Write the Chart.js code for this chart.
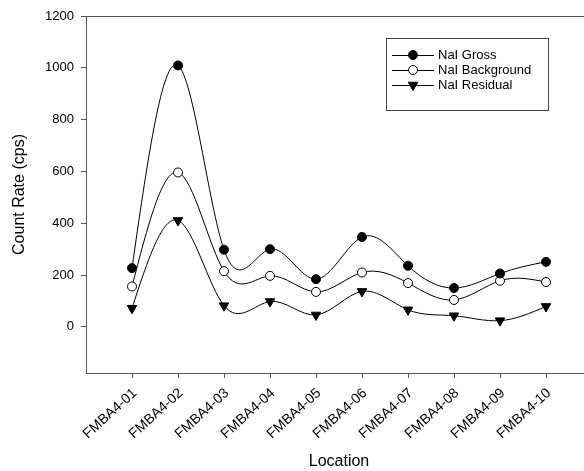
<!DOCTYPE html>
<html>
<head>
<meta charset="utf-8">
<title>NaI count rates by location</title>
<script src="https://cdn.jsdelivr.net/npm/chart.js@4.4.1/dist/chart.umd.min.js"></script>
<style>
  html, body { margin: 0; padding: 0; background: #fff; width: 584px; height: 471px; overflow: hidden; }
  canvas { display: block; }
</style>
</head>
<body>
<canvas id="chart" width="600" height="471"></canvas>
<script>
// Survey locations and NaI detector count rates (cps)
const locations = ['FMBA4-01', 'FMBA4-02', 'FMBA4-03', 'FMBA4-04', 'FMBA4-05',
                   'FMBA4-06', 'FMBA4-07', 'FMBA4-08', 'FMBA4-09', 'FMBA4-10'];
const grossRate      = [227, 1009, 298, 300, 184, 347, 236, 150, 206, 251];
const backgroundRate = [156, 596, 215, 197, 135, 210, 169, 104, 178, 173];
const residualRate   = [72, 411, 82, 98, 46, 137, 66, 43, 24, 79];
const yTickValues    = [0, 200, 400, 600, 800, 1000, 1200];
const seriesNames    = ['NaI Gross', 'NaI Background', 'NaI Residual'];

const FONT = '"Liberation Sans", Arial, Helvetica, sans-serif';
const AXIS_COLOR = '#555555';

// Slopes of a natural cubic spline through the points (x strictly increasing)
function naturalSplineSlopes(xs, ys) {
  const n = xs.length;
  const h = [];
  for (let i = 0; i < n - 1; i++) h.push(xs[i + 1] - xs[i]);
  const M = new Array(n).fill(0);
  const a = [], b = [], c = [], d = [];
  for (let i = 1; i < n - 1; i++) {
    a.push(h[i - 1]);
    b.push(2 * (h[i - 1] + h[i]));
    c.push(h[i]);
    d.push(6 * ((ys[i + 1] - ys[i]) / h[i] - (ys[i] - ys[i - 1]) / h[i - 1]));
  }
  const m = d.length;
  if (m > 0) {
    for (let i = 1; i < m; i++) {
      const w = a[i] / b[i - 1];
      b[i] -= w * c[i - 1];
      d[i] -= w * d[i - 1];
    }
    const sol = new Array(m);
    sol[m - 1] = d[m - 1] / b[m - 1];
    for (let i = m - 2; i >= 0; i--) sol[i] = (d[i] - c[i] * sol[i + 1]) / b[i];
    for (let i = 0; i < m; i++) M[i + 1] = sol[i];
  }
  const s = [];
  for (let i = 0; i < n - 1; i++) {
    s.push((ys[i + 1] - ys[i]) / h[i] - h[i] * (2 * M[i] + M[i + 1]) / 6);
  }
  s.push((ys[n - 1] - ys[n - 2]) / h[n - 2] + h[n - 2] * (M[n - 2] + 2 * M[n - 1]) / 6);
  return s;
}

// Replace the default bezier control points with natural-spline ones
const naturalSpline = {
  id: 'naturalSpline',
  beforeDatasetDraw(chart, args) {
    const meta = args.meta;
    const line = meta.dataset;
    const pts = meta.data;
    if (!line || pts.length < 3) return;
    line.updateControlPoints(chart.chartArea, meta.iScale.axis);
    const xs = pts.map(p => p.x);
    const ys = pts.map(p => p.y);
    const s = naturalSplineSlopes(xs, ys);
    const n = pts.length;
    pts.forEach((p, i) => {
      const hl = i > 0 ? xs[i] - xs[i - 1] : 0;
      const hr = i < n - 1 ? xs[i + 1] - xs[i] : 0;
      p.cp1x = xs[i] - hl / 3;
      p.cp1y = ys[i] - s[i] * hl / 3;
      p.cp2x = xs[i] + hr / 3;
      p.cp2y = ys[i] + s[i] * hr / 3;
    });
    line._path = undefined;
  }
};

// Top and right edges of the plot frame
const plotFrame = {
  id: 'plotFrame',
  afterDraw(chart) {
    const { ctx, chartArea: a } = chart;
    ctx.save();
    ctx.strokeStyle = AXIS_COLOR;
    ctx.lineWidth = 1;
    ctx.beginPath();
    ctx.moveTo(a.left, Math.round(a.top) + 0.5);
    ctx.lineTo(a.right, Math.round(a.top) + 0.5);
    ctx.moveTo(Math.round(a.right) + 0.5, a.top);
    ctx.lineTo(Math.round(a.right) + 0.5, a.bottom);
    ctx.stroke();
    ctx.restore();
  }
};

// Boxed legend inside the plot: line sample with marker, then the series name
const boxedLegend = {
  id: 'boxedLegend',
  afterDraw(chart) {
    const ctx = chart.ctx;
    const box = { x: 386.5, y: 38.5, w: 162, h: 72 };
    const rowY = [55, 70, 85];
    ctx.save();
    ctx.strokeStyle = '#444444';
    ctx.lineWidth = 1;
    ctx.strokeRect(box.x, box.y, box.w, box.h);
    ctx.font = '13px ' + FONT;
    ctx.textBaseline = 'middle';
    ctx.textAlign = 'left';
    chart.data.datasets.forEach((ds, i) => {
      const y = rowY[i];
      ctx.strokeStyle = '#000';
      ctx.lineWidth = 1;
      ctx.beginPath();
      ctx.moveTo(392, y + 0.5);
      ctx.lineTo(434, y + 0.5);
      ctx.stroke();
      ctx.fillStyle = ds.pointBackgroundColor;
      ctx.strokeStyle = ds.pointBorderColor;
      ctx.lineWidth = ds.pointBorderWidth;
      Chart.helpers.drawPoint(ctx, {
        pointStyle: ds.pointStyle,
        rotation: ds.pointRotation || 0,
        radius: ds.pointRadius,
        borderWidth: ds.pointBorderWidth
      }, 413, y);
      ctx.fillStyle = '#000';
      ctx.fillText(ds.label, 438, y);
    });
    ctx.restore();
  }
};

const toPoints = values => values.map((v, i) => ({ x: i + 1, y: v }));

const common = {
  borderColor: '#000',
  borderWidth: 1,
  tension: 0.4,
  fill: false,
  pointBorderColor: '#000',
  pointBorderWidth: 1,
  pointHoverRadius: 0
};

new Chart(document.getElementById('chart'), {
  type: 'line',
  data: {
    datasets: [
      Object.assign({}, common, {
        label: seriesNames[0],
        data: toPoints(grossRate),
        pointStyle: 'circle',
        pointRadius: 4.5,
        pointBackgroundColor: '#000'
      }),
      Object.assign({}, common, {
        label: seriesNames[1],
        data: toPoints(backgroundRate),
        pointStyle: 'circle',
        pointRadius: 4.5,
        pointBackgroundColor: '#fff'
      }),
      Object.assign({}, common, {
        label: seriesNames[2],
        data: toPoints(residualRate),
        pointStyle: 'triangle',
        pointRotation: 180,
        pointRadius: 5.5,
        pointBackgroundColor: '#000'
      })
    ]
  },
  options: {
    responsive: false,
    animation: false,
    events: [],
    layout: { padding: { left: 0, top: 16, right: 8, bottom: 0 } },
    plugins: {
      legend: { display: false },
      tooltip: { enabled: false }
    },
    scales: {
      x: {
        type: 'linear',
        min: 0,
        max: locations.length + 1,
        afterBuildTicks: scale => { scale.ticks = locations.map((_, i) => ({ value: i + 1 })); },
        afterFit: scale => { scale.height = 98; },
        ticks: {
          autoSkip: false,
          minRotation: 42,
          maxRotation: 42,
          padding: 7,
          labelOffset: 3,
          color: '#000',
          font: { family: FONT, size: 14 },
          callback: v => locations[v - 1] || ''
        },
        grid: { display: true, drawOnChartArea: false, drawTicks: true, tickLength: 5, color: AXIS_COLOR, lineWidth: 1 },
        border: { display: true, color: AXIS_COLOR, width: 1 },
        title: {
          display: true,
          text: 'Location',
          color: '#000',
          font: { family: FONT, size: 16 },
          padding: { top: 0, bottom: 0 }
        }
      },
      y: {
        type: 'linear',
        min: -178,
        max: 1200,
        afterBuildTicks: scale => { scale.ticks = yTickValues.map(v => ({ value: v })); },
        afterFit: scale => { scale.width = 86; },
        ticks: {
          padding: 7,
          color: '#000',
          font: { family: FONT, size: 13 },
          callback: v => String(v)
        },
        grid: { display: true, drawOnChartArea: false, drawTicks: true, tickLength: 5, color: AXIS_COLOR, lineWidth: 1 },
        border: { display: true, color: AXIS_COLOR, width: 1 },
        title: {
          display: true,
          text: 'Count Rate (cps)',
          color: '#000',
          font: { family: FONT, size: 16 },
          padding: { top: 10, bottom: 0 }
        }
      }
    }
  },
  plugins: [naturalSpline, plotFrame, boxedLegend]
});
</script>
</body>
</html>
